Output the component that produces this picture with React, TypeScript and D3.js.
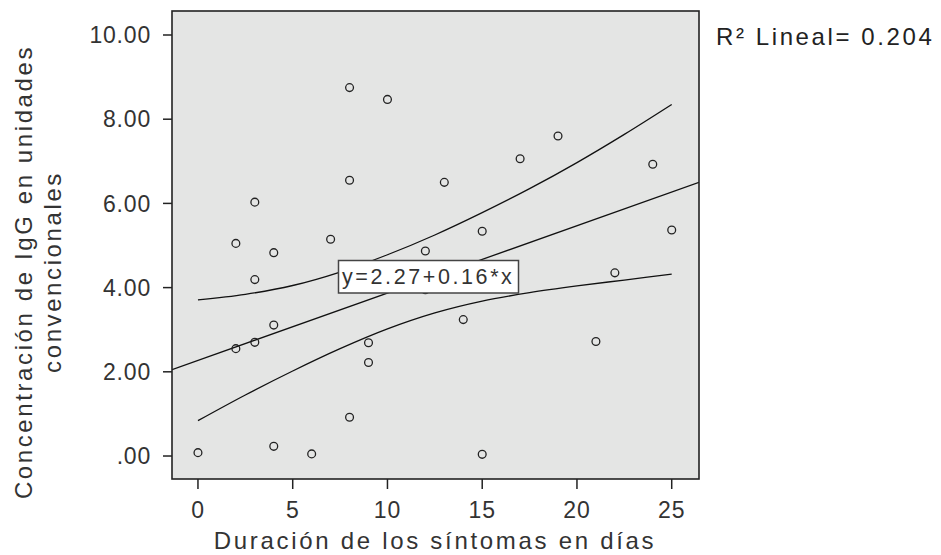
import React from "react";
import * as d3 from "d3";

const durationDays = [0, 2, 2, 3, 3, 3, 4, 4, 4, 6, 7, 8, 8, 8, 9, 9, 10, 12, 12, 13, 14, 15, 15, 17, 19, 21, 22, 24, 25];
const iggValues = [0.08, 5.05, 2.55, 6.03, 4.19, 2.7, 4.83, 3.11, 0.23, 0.05, 5.15, 8.75, 6.55, 0.92, 2.69, 2.22, 8.47, 4.87, 3.95, 6.5, 3.24, 5.34, 0.04, 7.06, 7.6, 2.72, 4.35, 6.93, 5.37];

// confidence band of the mean, read at regular x positions
const bandX = [0, 2.5, 5, 7.5, 10, 12.5, 15, 17.5, 20, 22.5, 25];
const bandUpper = [3.71, 3.84, 4.05, 4.37, 4.78, 5.25, 5.78, 6.35, 6.97, 7.64, 8.35];
const bandLower = [0.84, 1.45, 2.02, 2.55, 3.02, 3.4, 3.68, 3.88, 4.04, 4.18, 4.32];

const fitIntercept = 2.27;
const fitSlope = 0.16;
const fitLabel = "y=2.27+0.16*x";
const r2Label = "R² Lineal= 0.204";

const xTicks = [0, 5, 10, 15, 20, 25];
const yTicks = [0, 2, 4, 6, 8, 10];
const yTickLabels = [".00", "2.00", "4.00", "6.00", "8.00", "10.00"];

const xTitle = "Duración de los síntomas en días";
const yTitleLines = ["Concentración de IgG en unidades", "convencionales"];

export default function App() {
  const W = 941, H = 555;
  const left = 172, right = 699, top = 11, bottom = 479;
  const font = "'Liberation Sans', Arial, sans-serif";
  const ink = "#333";

  const x = d3.scaleLinear().domain([-1.37, 26.44]).range([left, right]);
  const y = d3.scaleLinear().domain([-0.546, 10.57]).range([bottom, top]);

  const band = d3.line<number>().x((d, i) => x(bandX[i])).curve(d3.curveMonotoneX);
  const upperPath = band.y((d) => y(d))(bandUpper) || "";
  const lowerPath = band.y((d) => y(d))(bandLower) || "";

  const [x0, x1] = x.domain();
  const fitLine = d3.line<number>().x((d) => x(d)).y((d) => y(fitIntercept + fitSlope * d))([x0, x1]) || "";

  return (
    <div style={{ position: "absolute", left: 0, top: 0 }}>
      <svg width={W} height={H} style={{ display: "block", background: "#fff" }}>
        <defs>
          <clipPath id="plot">
            <rect x={left} y={top} width={right - left} height={bottom - top} />
          </clipPath>
        </defs>
        <rect x={left} y={top} width={right - left} height={bottom - top} fill="#e4e5e4" />

        <g clipPath="url(#plot)" fill="none" stroke="#111" strokeWidth={1.3}>
          <path d={fitLine} />
          <path d={upperPath} />
          <path d={lowerPath} />
        </g>

        {durationDays.map((d, i) => (
          <circle key={i} cx={x(d)} cy={y(iggValues[i])} r={3.9} fill="none" stroke="#222" strokeWidth={1.3} />
        ))}

        {/* equation box */}
        <rect x={338.5} y={260.5} width={180} height={32.5} fill="#fff" stroke="#444" strokeWidth={1.5} />
        <text x={342} y={284} fontFamily={font} fontSize={21.5} letterSpacing={2.6} fill={ink}>{fitLabel}</text>

        <rect x={left} y={top} width={right - left} height={bottom - top} fill="none" stroke="#222" strokeWidth={1.6} />

        {/* y axis */}
        {yTicks.map((t, i) => (
          <g key={t}>
            <line x1={163} x2={left} y1={y(t)} y2={y(t)} stroke="#222" strokeWidth={1.5} />
            <text x={151} y={y(t)} dy="0.36em" textAnchor="end" fontFamily={font} fontSize={23} letterSpacing={0.8} fill={ink}>
              {yTickLabels[i]}
            </text>
          </g>
        ))}

        {/* x axis */}
        {xTicks.map((t) => (
          <g key={t}>
            <line x1={x(t)} x2={x(t)} y1={bottom} y2={489} stroke="#222" strokeWidth={1.5} />
            <text x={x(t)} y={518} textAnchor="middle" fontFamily={font} fontSize={23} letterSpacing={0.8} fill={ink}>
              {t}
            </text>
          </g>
        ))}

        <text x={435} y={549} textAnchor="middle" fontFamily={font} fontSize={24} letterSpacing={2.7} fill={ink}>
          {xTitle}
        </text>

        {yTitleLines.map((line, i) => (
          <text key={i} transform={`translate(${32 + i * 29}, 272) rotate(-90)`} textAnchor="middle"
            fontFamily={font} fontSize={24} letterSpacing={2.6} fill={ink}>
            {line}
          </text>
        ))}

        <text x={716} y={45} fontFamily={font} fontSize={24} letterSpacing={2.6} fill="#222">{r2Label}</text>
      </svg>
    </div>
  );
}
